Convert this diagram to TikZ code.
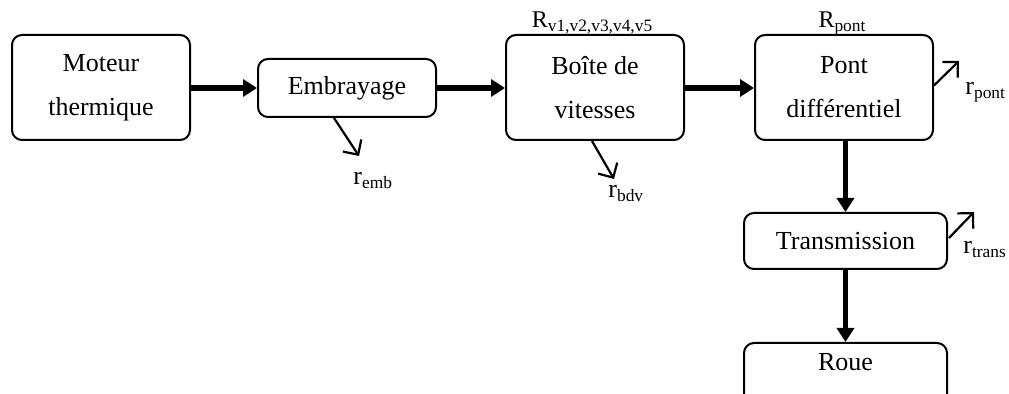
\documentclass[tikz,border=0pt]{standalone}
\usepackage{fontspec}
\setmainfont{Liberation Serif}
\usetikzlibrary{arrows.meta,calc}
\newcommand\lowsub[1]{\raisebox{-2pt}{\fontsize{8.7pt}{9pt}\selectfont #1}}
\begin{document}
\begin{tikzpicture}[x=0.5pt,y=-0.5pt,
  blockbox/.style={draw, line width=1pt, rounded corners=5pt, align=center,
    font=\fontsize{13pt}{22pt}\selectfont, inner sep=0pt},
  flow/.style={line width=2.8pt, -{Triangle[length=7pt,width=8.5pt]}},
  loss/.style={line width=1.1pt, -{Straight Barb[length=5.5pt,width=11pt]}},
  lbl/.style={font=\fontsize{13pt}{15pt}\selectfont, inner sep=0pt},
  rlbl/.style={font=\fontsize{12pt}{14pt}\selectfont, inner sep=0pt}]
\clip (0,0) rectangle (1009,394);
\fill[white] (0,0) rectangle (1009,394);

\node[blockbox, minimum width=89pt, minimum height=52.5pt] (moteur) at (101,87.5) {Moteur\\thermique};
\node[blockbox, minimum width=89pt, minimum height=29pt] (embr) at (347,88) {Embrayage};
\node[blockbox, minimum width=89pt, minimum height=52.5pt] (boite) at (595,87.5) {Boîte de\\vitesses};
\node[blockbox, minimum width=89pt, minimum height=52.5pt] (pont) at (844,87.5) {Pont\\différentiel};
\node[blockbox, minimum width=101.5pt, minimum height=28pt] (trans) at (845.5,241) {Transmission};
\node[blockbox, minimum width=101.5pt, minimum height=0pt, text height=14pt, text depth=40pt, anchor=north] (roue) at (845.5,342) {Roue};

\draw[flow] (moteur.east |- embr.west) -- (embr.west);
\draw[flow] (embr.east) -- (boite.west |- embr.east);
\draw[flow] (boite.east |- embr.east) -- (pont.west |- embr.east);
\draw[flow] (pont.south -| trans.north) -- (trans.north);
\draw[flow] (trans.south) -- (roue.north);

% labels
\node[rlbl, anchor=base] (rv) at (592,28) {R\lowsub{v1,v2,v3,v4,v5}};
\node[rlbl, anchor=base] (rp) at (842,28) {R\lowsub{pont}};

\node[lbl, anchor=base west] (remb) at (353,185) {r\lowsub{emb}};
\node[lbl, anchor=base west] (rbdv) at (608,198) {r\lowsub{bdv}};
\node[lbl, anchor=base west] (rpont) at (965,95) {r\lowsub{pont}};
\node[lbl, anchor=base west] (rtrans) at (963,254) {r\lowsub{trans}};

\coordinate (embend) at (359,156);
\coordinate (bdvend) at (614,179);
\coordinate (pontend) at (959,61);
\coordinate (transend) at (974,212);

\draw[loss] ($(embr.south)+(-13,0)$) -- (embend);
\draw[loss] ($(boite.south)+(-3,0)$) -- (bdvend);
\draw[loss] ($(pont.east)+(0,-2)$) -- (pontend);
\draw[loss] ($(trans.east)+(1,-3)$) -- (transend);
\end{tikzpicture}
\end{document}
